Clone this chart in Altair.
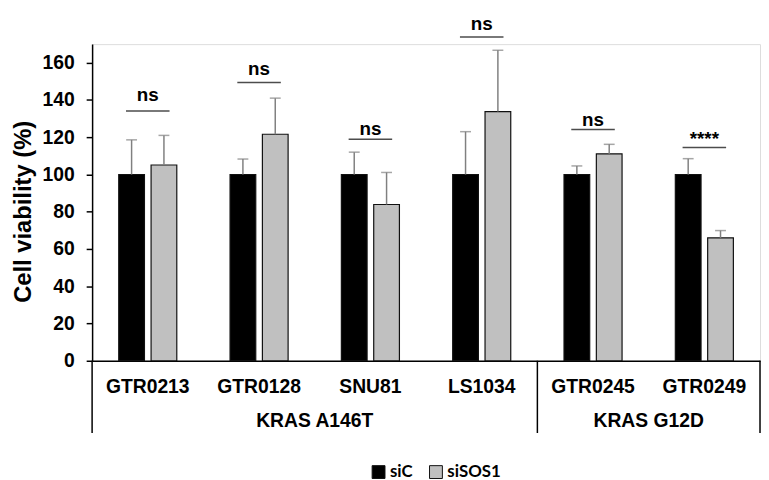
import altair as alt
import pandas as pd

cells = ["GTR0213", "GTR0128", "SNU81", "LS1034", "GTR0245", "GTR0249"]
groups = ["KRAS A146T", "KRAS A146T", "KRAS A146T", "KRAS A146T", "KRAS G12D", "KRAS G12D"]
series = ["siC", "siSOS1"]
siC_mean = [100, 100, 100, 100, 100, 100]
siC_sd = [18.6, 8.3, 12.0, 23.0, 4.6, 8.5]
siSOS1_mean = [105.1, 121.6, 83.9, 133.8, 111.1, 66.0]
siSOS1_sd = [15.9, 19.4, 17.2, 32.9, 5.1, 3.9]
sig_labels = ["ns", "ns", "ns", "ns", "ns", "****"]
sig_line = [134.1, 149.4, 118.9, 173.8, 124.2, 114.5]
sig_text = [142.5, 156.6, 124.2, 181.0, 129.2, 118.9]
y_ticks = [0, 20, 40, 60, 80, 100, 120, 140, 160]

rows = []
for i, c in enumerate(cells):
    rows.append({"cell": c, "series": "siC", "mean": siC_mean[i], "upper": siC_mean[i] + siC_sd[i]})
    rows.append({"cell": c, "series": "siSOS1", "mean": siSOS1_mean[i], "upper": siSOS1_mean[i] + siSOS1_sd[i]})
df = pd.DataFrame(rows)

sig = pd.DataFrame({"cell": cells, "label": sig_labels, "line": sig_line, "ty": sig_text})

# group structure derived from membership
gnames = []
for g in groups:
    if g not in gnames:
        gnames.append(g)
starts, mids = [], []
pos = 0
for g in gnames:
    n = groups.count(g)
    starts.append(cells[pos])
    mids.append(cells[pos + n // 2 - 1])  # boundary after this cell = group centre (even groups)
    pos += n
gstart = pd.DataFrame({"cell": starts})
gend = pd.DataFrame({"cell": [cells[-1]]})
gtext = pd.DataFrame({"cell": mids, "group": gnames})

W, H = 675, 320
FONT = "Liberation Sans"
YT = "Cell viability (%)"

yscale = alt.Scale(domain=[0, 170], nice=False)
yaxis = alt.Axis(values=y_ticks, labelOverlap=False, grid=False)
xscale = alt.Scale(paddingInner=0, paddingOuter=0)
xaxis = alt.Axis(labelAngle=0, ticks=False, labelOverlap=False, grid=False)

def X(bp=None):
    if bp is None:
        return alt.X("cell:N", sort=cells, scale=xscale, axis=xaxis, title=None)
    return alt.X("cell:N", sort=cells, scale=xscale, axis=xaxis, title=None, bandPosition=bp)

def Y(field):
    return alt.Y(field, scale=yscale, axis=yaxis, title=YT, stack=None)

xoff = alt.XOffset("series:N", sort=series, scale=alt.Scale(paddingInner=0.205, paddingOuter=0.8235))

bars = alt.Chart(df).mark_bar(stroke="#111", strokeWidth=1.2).encode(
    x=X(),
    xOffset=xoff,
    y=Y("mean:Q"),
    color=alt.Color("series:N", sort=series,
                    scale=alt.Scale(domain=series, range=["#000000", "#c0c0c0"]),
                    legend=alt.Legend(title=None, orient="none", legendX=281, legendY=424,
                                      direction="horizontal", symbolType="square",
                                      symbolSize=169, labelFont="Lato", labelFontSize=17,
                                      labelFontWeight="bold", labelColor="#000",
                                      symbolStrokeColor="#111", symbolStrokeWidth=1,
                                      columnPadding=15, labelOffset=3)),
)

err = alt.Chart(df).mark_rule(color="#808080", strokeWidth=1.5).encode(
    x=X(), xOffset=xoff, y=Y("mean:Q"), y2="upper:Q",
)

caps = alt.Chart(df).mark_tick(color="#808080", thickness=1.5, size=11, orient="horizontal").encode(
    x=X(), xOffset=xoff, y=Y("upper:Q"),
)

siglines = alt.Chart(sig).mark_tick(color="#000", thickness=1.5, size=44, orient="horizontal").encode(
    x=X(), y=Y("line:Q"),
)

sigtext = alt.Chart(sig).mark_text(font=FONT, fontWeight="bold", fontSize=19, color="#000",
                                   baseline="middle").encode(
    x=X(), y=Y("ty:Q"), text="label:N",
)

grule_start = alt.Chart(gstart).mark_rule(color="#000", strokeWidth=1.5).encode(
    x=X(0), y=alt.value(H), y2=alt.value(H + 73),
)
grule_end = alt.Chart(gend).mark_rule(color="#000", strokeWidth=1.5).encode(
    x=X(1), y=alt.value(H), y2=alt.value(H + 73),
)
glabels = alt.Chart(gtext).mark_text(font=FONT, fontWeight="bold", fontSize=19.5, color="#000",
                                     baseline="middle").encode(
    x=X(1), y=alt.value(H + 61), text="group:N",
)

chart = alt.layer(bars, err, caps, siglines, sigtext, grule_start, grule_end, glabels).properties(
    width=W, height=H,
    autosize=alt.AutoSizeParams(type="none"),
    padding={"left": 85, "top": 34, "right": 1, "bottom": 118},
).configure_view(stroke=None).configure(background="white").configure_axisY(
    labelFont=FONT, labelFontWeight="bold", labelFontSize=19.5, labelColor="#000",
    tickColor="#000", tickSize=6, tickWidth=1.5, domainColor="#000", domainWidth=1.5,
    labelPadding=12, titleFont=FONT, titleFontSize=24, titleFontWeight="bold",
    titleColor="#000", titlePadding=7, titleY=169,
).configure_axisX(
    domainColor="#000", domainWidth=1.5, labelFont=FONT, labelFontWeight="bold",
    labelFontSize=19.5, labelColor="#000", labelPadding=17,
)

chart.save("out.html", embed_options={"renderer": "svg", "actions": False})
